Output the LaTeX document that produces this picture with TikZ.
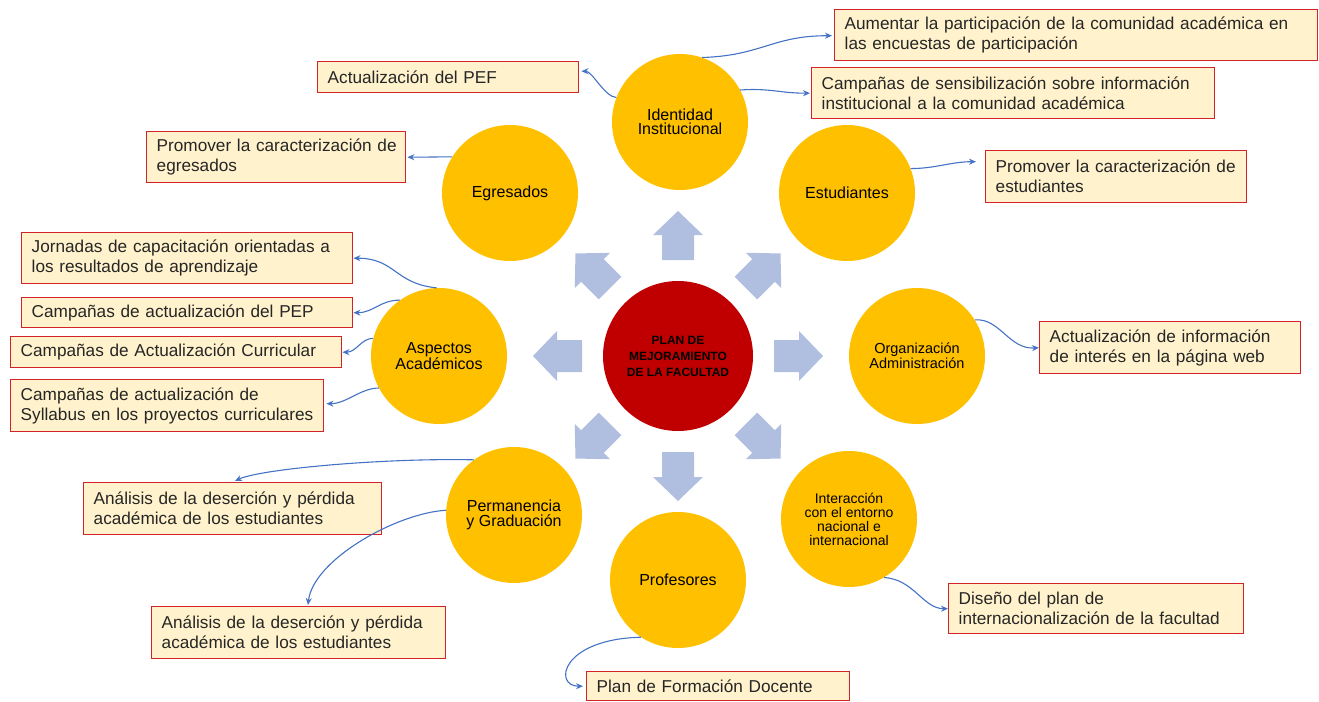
\documentclass[tikz,border=0pt]{standalone}
\usepackage{fontspec}
\setmainfont{Liberation Sans}
\usetikzlibrary{calc,arrows.meta}
\definecolor{ycirc}{HTML}{FFC000}
\definecolor{rcirc}{HTML}{C00000}
\definecolor{bfill}{HTML}{FFF2CC}
\definecolor{bdraw}{RGB}{210,35,40}
\definecolor{conn}{HTML}{4472C4}
\definecolor{barrow}{RGB}{176,190,224}
\definecolor{txt}{HTML}{262626}
\begin{document}
\begin{tikzpicture}[x=1pt,y=-1pt,
  box/.style={draw=bdraw, fill=bfill, line width=1.4pt, anchor=north west,
    inner xsep=10pt, inner ysep=0pt, align=left, text=txt,
    font=\fontsize{17.2}{20}\selectfont},
  circ/.style={circle, fill=ycirc, minimum size=136pt, inner sep=0pt,
    align=center, text=black, font=\fontsize{16}{14.5}\selectfont},
  small/.style={font=\fontsize{14.5}{15}\selectfont},
  smaller/.style={font=\fontsize{14}{14}\selectfont},
  hub/.style={circle, fill=rcirc, minimum size=150pt, inner sep=0pt,
    align=center, text=black, font=\bfseries\fontsize{12}{16}\selectfont},
  conn/.style={draw=conn, line width=1.1pt, -{Stealth[length=7pt,width=6pt]}},
  blockarrow/.style={fill=barrow, draw=none}
]
\useasboundingbox (0,0) rectangle (1319,701);

% block arrows around the hub
\foreach \a in {0,45,...,315}{
  \begin{scope}[shift={(678,356)}, rotate=\a]
    \fill[blockarrow] (96,-16) -- (121,-16) -- (121,-25) -- (145,0) -- (121,25) -- (121,16) -- (96,16) -- cycle;
  \end{scope}
}

% hub
\node[hub] (hub) at (678,356) {PLAN DE\\MEJORAMIENTO\\DE LA FACULTAD};

% circles
\node[circ] (iden) at (680,122) {Identidad\\Institucional};
\node[circ] (egr) at (510,193) {Egresados};
\node[circ] (est) at (847,193) {Estudiantes};
\node[circ, small] (org) at (917,356) {Organización\\Administración};
\node[circ, smaller] (inter) at (849,519) {Interacción\\con el entorno\\nacional e\\internacional};
\node[circ] (prof) at (678,580) {Profesores};
\node[circ] (perm) at (514,515) {Permanencia\\y Graduación};
\node[circ] (asp) at (439,356) {Aspectos\\Académicos};

% boxes
\node[box, minimum width=261pt, minimum height=31pt, text width=241pt] (pef) at (317,61) {\mbox{Actualización del PEF}};
\node[box, minimum width=483pt, minimum height=51pt, text width=463pt] (aum) at (834,9) {\mbox{Aumentar la participación de la comunidad académica en}\\\mbox{las encuestas de participación}};
\node[box, minimum width=403pt, minimum height=51pt, text width=383pt] (camp) at (811,67) {\mbox{Campañas de sensibilización sobre información}\\\mbox{institucional a la comunidad académica}};
\node[box, minimum width=259pt, minimum height=51pt, text width=239pt] (pegr) at (146,131) {\mbox{Promover la caracterización de}\\\mbox{egresados}};
\node[box, minimum width=261pt, minimum height=52pt, text width=241pt] (pest) at (985,150) {\mbox{Promover la caracterización de}\\\mbox{estudiantes}};
\node[box, minimum width=331pt, minimum height=51pt, text width=311pt] (jorn) at (21,232) {\mbox{Jornadas de capacitación orientadas a}\\\mbox{los resultados de aprendizaje}};
\node[box, minimum width=331pt, minimum height=30pt, text width=311pt] (pep) at (21,297) {\mbox{Campañas de actualización del PEP}};
\node[box, minimum width=331pt, minimum height=31pt, text width=311pt] (curr) at (10,336) {\mbox{Campañas de Actualización Curricular}};
\node[box, minimum width=313pt, minimum height=52pt, text width=293pt] (syll) at (10,379) {\mbox{Campañas de actualización de}\\\mbox{Syllabus en los proyectos curriculares}};
\node[box, minimum width=261pt, minimum height=52pt, text width=241pt] (info) at (1039,321) {\mbox{Actualización de información}\\\mbox{de interés en la página web}};
\node[box, minimum width=298pt, minimum height=52pt, text width=278pt] (an1) at (83,482) {\mbox{Análisis de la deserción y pérdida}\\\mbox{académica de los estudiantes}};
\node[box, minimum width=294pt, minimum height=52pt, text width=274pt] (an2) at (151,606) {\mbox{Análisis de la deserción y pérdida}\\\mbox{académica de los estudiantes}};
\node[box, minimum width=295pt, minimum height=50pt, text width=275pt] (dis) at (948,583) {\mbox{Diseño del plan de}\\\mbox{internacionalización de la facultad}};
\node[box, minimum width=263pt, minimum height=29pt, text width=243pt] (pfd) at (586,671) {\mbox{Plan de Formación Docente}};

% connectors
\draw[conn] (iden.159) .. controls +(-12,-1) and +(11,0) .. ($(pef.east)+(2,-6)$);
\draw[conn] (iden.71) .. controls +(60,-2) and +(-60,0) .. ($(aum.west)+(-2,0.5)$);
\draw[conn] (iden.28) .. controls +(30,-2) and +(-30,0) .. ($(camp.west)+(-1,0)$);
\draw[conn] (egr.148) .. controls +(-15,0) and +(15,0) .. ($(pegr.east)+(1,0)$);
\draw[conn] (est.21) .. controls +(25,0) and +(-25,0) .. ($(pest.west)+(-9,-15)$);
\draw[conn] (org.32) .. controls +(25,-2) and +(-30,2) .. (info.west);
\draw[conn] (asp.92) .. controls +(-42,-4) and +(42,0) .. (jorn.east);
\draw[conn] (asp.125) .. controls +(-20,0) and +(20,0) .. (pep.east);
\draw[conn] (asp.165) .. controls +(-12,0) and +(14,0) .. (curr.east);
\draw[conn] (asp.208) .. controls +(-18,0) and +(20,0) .. ($(syll.east)+(2,-2)$);
\draw[conn] (perm.126) .. controls +(-90,-2) and +(25,-12) .. ($(an1.north west)+(152,-1)$);
\draw[conn] (perm.176) .. controls +(-50,3) and +(5,-45) .. ($(an2.north west)+(157,-1)$);
\draw[conn] (prof.237) .. controls +(-80,2) and +(-30,0) .. ($(pfd.west)+(-3,0)$);
\draw[conn] (inter.301) .. controls +(30,2) and +(-25,0) .. (dis.west);
\end{tikzpicture}
\end{document}
